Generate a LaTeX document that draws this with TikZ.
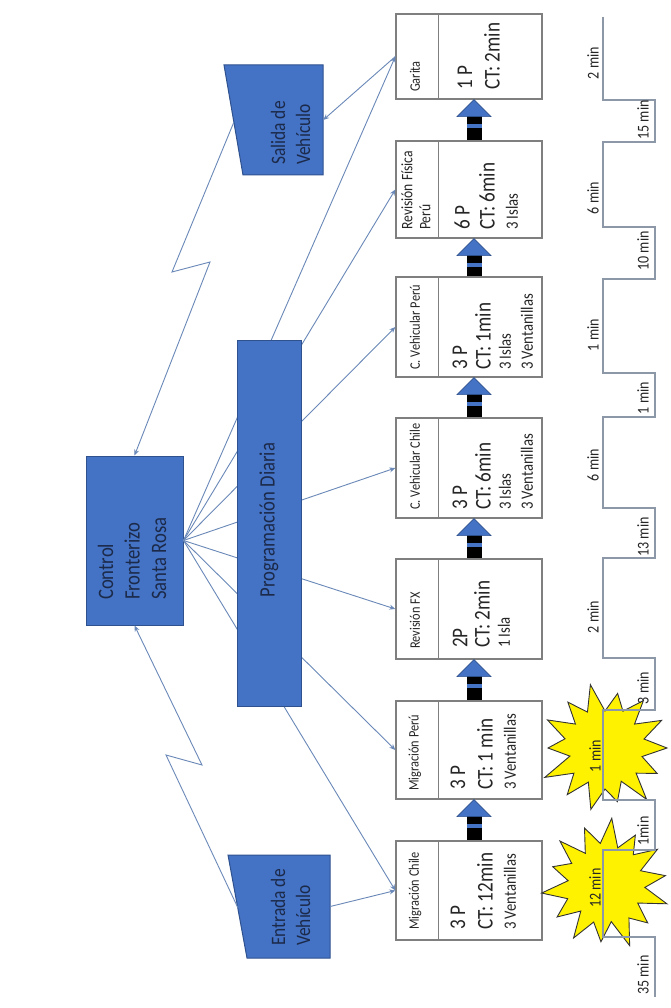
\documentclass[tikz,border=0pt]{standalone}
\usepackage{fontspec}
\setmainfont{Carlito}
\usetikzlibrary{calc,arrows.meta}

\definecolor{bluefill}{HTML}{4472C4}
\definecolor{blueedge}{HTML}{2F528F}
\definecolor{navytext}{HTML}{1C2A4A}
\definecolor{lineblue}{HTML}{6A88B8}
\definecolor{boxgray}{HTML}{7F7F7F}
\definecolor{tlgray}{HTML}{8C97A8}
\definecolor{burstyellow}{HTML}{FFF200}
\definecolor{inkgray}{HTML}{262626}

\newcommand\vsmName{\fontsize{14.5}{16}\selectfont}
\newcommand\vsmNameB{\fontsize{16}{18}\selectfont}
\newcommand\vsmBig{\fontsize{22.5}{24}\selectfont}
\newcommand\vsmSmall{\fontsize{17.3}{20}\selectfont}
\newcommand\vsmTitle{\fontsize{22}{26.5}\selectfont}
\newcommand\vsmShape{\fontsize{20.5}{25}\selectfont}
\newcommand\vsmTime{\fontsize{16.5}{18}\selectfont}

% push arrow between two process boxes: #1 lower box, #2 upper box
\newcommand\pushflow[2]{%
  \coordinate (pt) at ($(#2.south)+(5,0)$);
  \coordinate (pb) at ($(#1.north)+(5,0)$);
  \fill[black] ($(pt)+(-7.5,15)$) rectangle ($(pb)+(7.5,0)$);
  \fill[bluefill] ($(pt)+(-7.5,24)$) rectangle ($(pt)+(7.5,28)$);
  \filldraw[fill=bluefill, draw=blueedge, line width=0.6pt]
    (pt) -- ($(pt)+(17,17)$) -- ($(pt)+(-17,17)$) -- cycle;
}

\begin{document}
\begin{tikzpicture}[x=1pt,y=-1pt,
  pbox/.style={draw=boxgray, line width=1.3pt, fill=white, minimum width=146pt, inner sep=0pt},
  blk/.style={draw=blueedge, line width=1pt, fill=bluefill},
  rt/.style={rotate=90, xscale=0.85, inner sep=0pt, anchor=west},
  rtc/.style={rotate=90, xscale=0.85, inner sep=0pt, anchor=center},
  conn/.style={draw=lineblue, line width=0.9pt, -{Stealth[length=6pt,width=5pt]}},
  tline/.style={draw=tlgray, line width=1.3pt},
  burst/.style={fill=burstyellow, draw=black!80, line width=0.9pt, line join=miter},
  ptext/.style={rt, text=inkgray},
  ttext/.style={rtc, text=inkgray, font=\vsmTime},
  ghost/.style={inner sep=0pt, draw=none}
]
\fill[white] (0,0) rectangle (671,1008);
\useasboundingbox (0,0) rectangle (671,1008);

% ---------- process boxes ----------
\node[pbox, minimum height=99pt]  (m1) at (469,890.5) {};
\node[pbox, minimum height=98pt]  (m2) at (469,750) {};
\node[pbox, minimum height=100pt] (m3) at (469,609) {};
\node[pbox, minimum height=100pt] (m4) at (469,468) {};
\node[pbox, minimum height=100pt] (m5) at (469,327) {};
\node[pbox, minimum height=97pt]  (m6) at (469,189.5) {};
\node[pbox, minimum height=85pt]  (m7) at (469,56.5) {};
\foreach \b in {m1,m2,m3,m4,m5,m6,m7}
  \draw[draw=boxgray, line width=1.3pt] ([xshift=43pt]\b.north west) -- ([xshift=43pt]\b.south west);

% box texts
\node[ptext, font=\vsmName]  (m1a) at (415,930) {Migración Chile};
\node[ptext, font=\vsmBig]   (m1b) at (458,930) {3 P};
\node[ptext, font=\vsmBig]   (m1c) at (485,930) {CT: 12min};
\node[ptext, font=\vsmSmall] (m1d) at (510,930) {3 Ventanillas};

\node[ptext, font=\vsmName]  (m2a) at (415,791) {Migración Perú};
\node[ptext, font=\vsmBig]   (m2b) at (458,790) {3 P};
\node[ptext, font=\vsmBig]   (m2c) at (485,790) {CT: 1 min};
\node[ptext, font=\vsmSmall] (m2d) at (510,790) {3 Ventanillas};

\node[ptext, font=\vsmName]  (m3a) at (415,649) {Revisión FX};
\node[ptext, font=\vsmBig]   (m3b) at (460,648) {2P};
\node[ptext, font=\vsmBig]   (m3c) at (482,648) {CT: 2min};
\node[ptext, font=\vsmSmall] (m3d) at (504,648) {1 Isla};

\node[ptext, font=\vsmName]  (m4a) at (415,510) {C. Vehicular Chile};
\node[ptext, font=\vsmBig]   (m4b) at (460,510) {3 P};
\node[ptext, font=\vsmBig]   (m4c) at (483,510) {CT: 6min};
\node[ptext, font=\vsmSmall] (m4d) at (505,510) {3 Islas};
\node[ptext, font=\vsmSmall] (m4e) at (527,510) {3 Ventanillas};

\node[ptext, font=\vsmName]  (m5a) at (415,370) {C. Vehicular Perú};
\node[ptext, font=\vsmBig]   (m5b) at (460,370) {3 P};
\node[ptext, font=\vsmBig]   (m5c) at (483,370) {CT: 1min};
\node[ptext, font=\vsmSmall] (m5d) at (505,370) {3 Islas};
\node[ptext, font=\vsmSmall] (m5e) at (527,370) {3 Ventanillas};

\node[ptext, font=\vsmNameB, align=left] (m6a) at (416,230) {Revisión Física\\Perú};
\node[ptext, font=\vsmBig]   (m6b) at (462,230) {6 P};
\node[ptext, font=\vsmBig]   (m6c) at (487,230) {CT: 6min};
\node[ptext, font=\vsmSmall] (m6d) at (512,230) {3 Islas};

\node[ptext, font=\vsmName]  (m7a) at (415,92) {Garita};
\node[ptext, font=\vsmBig]   (m7b) at (465,90) {1 P};
\node[ptext, font=\vsmBig]   (m7c) at (492,90) {CT: 2min};

% push arrows
\pushflow{m1}{m2}
\pushflow{m2}{m3}
\pushflow{m3}{m4}
\pushflow{m4}{m5}
\pushflow{m5}{m6}
\pushflow{m6}{m7}

% ---------- control, entry and exit shapes ----------
\node[blk, minimum width=97pt, minimum height=169pt, inner sep=0pt] (ctrl) at (134.5,540.5) {};
\node[rt, font=\vsmTitle, text=navytext, align=left] (ctrlt) at (132,600) {Control\\Fronterizo\\Santa Rosa};

\draw[blk] (224,65) -- (323,65) -- (323,175) -- (243,175) -- cycle;
\node[ghost, minimum width=99pt, minimum height=110pt] (sal) at (273.5,120) {};
\node[rt, font=\vsmShape, text=navytext, align=left] (salt) at (290.5,165) {Salida de\\Vehículo};
\coordinate (salL) at (233.5,123);

\draw[blk] (228,855) -- (330,855) -- (330,958) -- (247,958) -- cycle;
\node[ghost, minimum width=102pt, minimum height=103pt] (ent) at (279,906.5) {};
\node[rt, font=\vsmShape, text=navytext, align=left] (entt) at (290.5,946) {Entrada de\\Vehículo};
\coordinate (entL) at (238,908);

% ---------- information flow ----------
\foreach \b in {m1,m2,m3,m4,m5,m6,m7}
  \draw[conn] (ctrl.east) -- (\b.west);
\draw[conn] (ent.east) -- (m1.west);
\draw[conn] (m7.west) -- (sal.east);
\draw[conn] (salL) -- (172,272) -- (210,262) -- (ctrl.north);
\draw[conn] (entL) -- (166,755) -- (202,765) -- (ctrl.south);

% daily schedule block over the fan of lines
\node[blk, minimum width=64pt, minimum height=366pt, inner sep=0pt] (prog) at (269,523) {};
\node[rtc, font=\vsmTitle, text=navytext] (progt) at (269,520) {Programación Diaria};

% ---------- kaizen bursts ----------
\begin{scope}[shift={(605,748)}]
\path[burst] (0:62) -- (13:38) -- (26:58) -- (39:40) -- (51:66) -- (64:37) -- (77:55)
  -- (90:41) -- (103:63) -- (116:38) -- (129:60) -- (141:40) -- (154:67) -- (167:36)
  -- (180:57) -- (193:41) -- (206:64) -- (219:38) -- (231:59) -- (244:40) -- (257:65)
  -- (270:37) -- (283:56) -- (296:41) -- (309:61) -- (321:38) -- (334:63) -- (347:40) -- cycle;
\end{scope}
\begin{scope}[shift={(606,884)}, rotate=8]
\path[burst] (0:60) -- (13:39) -- (26:64) -- (39:37) -- (51:57) -- (64:41) -- (77:66)
  -- (90:38) -- (103:58) -- (116:40) -- (129:63) -- (141:37) -- (154:59) -- (167:41)
  -- (180:65) -- (193:38) -- (206:56) -- (219:40) -- (231:63) -- (244:37) -- (257:60)
  -- (270:41) -- (283:66) -- (296:38) -- (309:57) -- (321:40) -- (334:62) -- (347:37) -- cycle;
\end{scope}

% ---------- timeline ----------
\draw[tline] (603,17) -- (603,100) -- (655,100) -- (655,142) -- (603,142) -- (603,227)
  -- (655,227) -- (655,279) -- (603,279) -- (603,373) -- (655,373) -- (655,417)
  -- (603,417) -- (603,508) -- (655,508) -- (655,558) -- (603,558) -- (603,658)
  -- (655,658) -- (655,710) -- (603,710) -- (603,800) -- (655,800) -- (655,850)
  -- (603,850) -- (603,937) -- (655,937) -- (655,997);

\node[ttext] (t1)  at (593,63)  {2 min};
\node[ttext] (t2)  at (643,120) {15 min};
\node[ttext] (t3)  at (593,198) {6 min};
\node[ttext] (t4)  at (643,251) {10 min};
\node[ttext] (t5)  at (593,335) {1 min};
\node[ttext] (t6)  at (643,398) {1 min};
\node[ttext] (t7)  at (593,465) {6 min};
\node[ttext] (t8)  at (643,537) {13 min};
\node[ttext] (t9)  at (593,617) {2 min};
\node[ttext] (t10) at (643,688) {3 min};
\node[ttext] (t11) at (595,756) {1 min};
\node[ttext] (t12) at (643,831) {1min};
\node[ttext] (t13) at (595,888) {12 min};
\node[ttext] (t14) at (643,975) {35 min};
\end{tikzpicture}
\end{document}
